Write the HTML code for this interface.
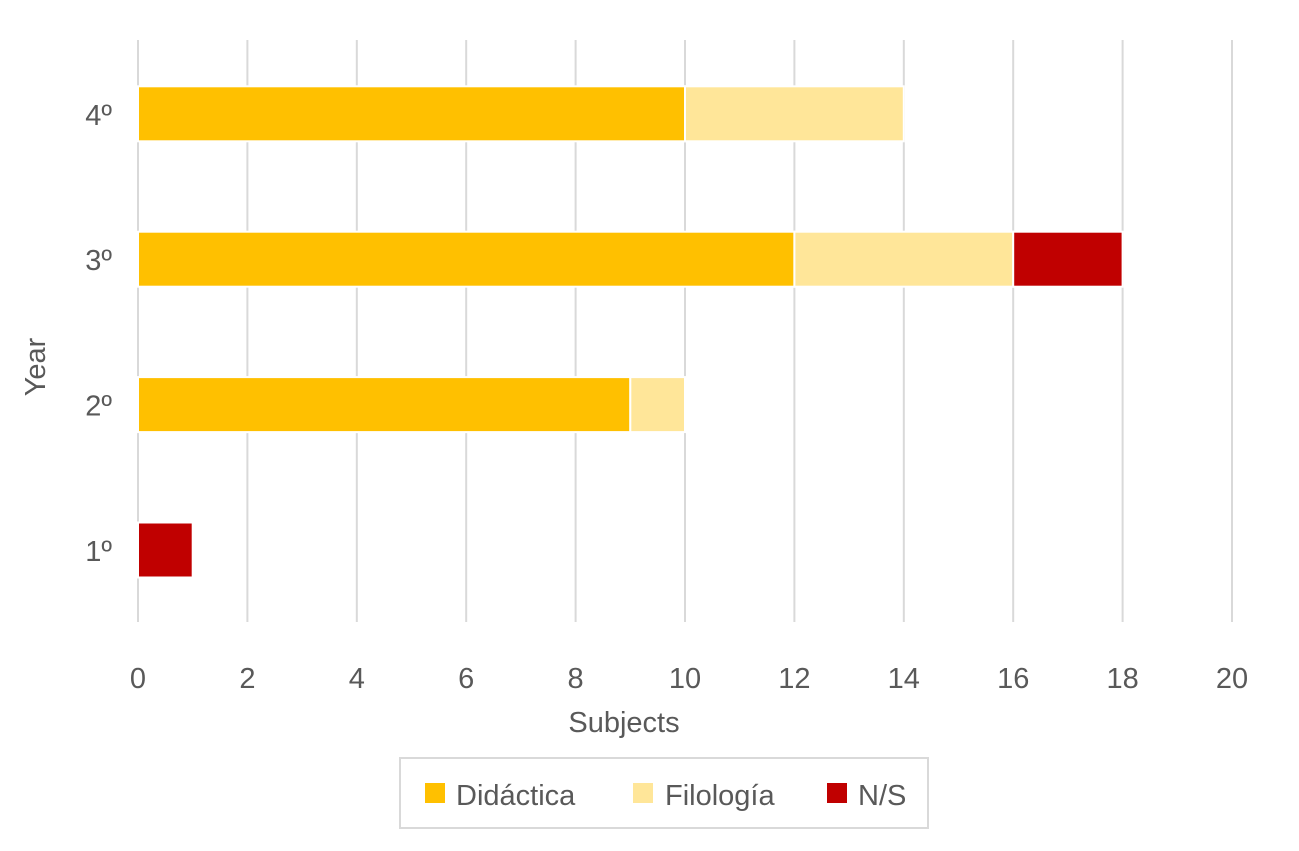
<!DOCTYPE html>
<html><head><meta charset="utf-8"><style>
body{margin:0;background:#fff;}
svg text{font-family:"Liberation Sans",sans-serif;fill:#595959;}
</style></head><body>
<svg id="chart" width="1299" height="846">
<g id="grid"></g><g id="bars"></g><g id="labels"></g>
<text x="624" y="732" font-size="29" text-anchor="middle">Subjects</text>
<text transform="translate(45,367) rotate(-90)" font-size="29" text-anchor="middle">Year</text>
<g>
<rect x="400" y="758" width="528" height="70" fill="#fff" stroke="#d9d9d9" stroke-width="2"/>
<g><rect x="425" y="783" width="20" height="20" fill="#FFC000"/><text x="456" y="805" font-size="29">Didáctica</text></g>
<g><rect x="633" y="783" width="20" height="20" fill="#FFE699"/><text x="665" y="805" font-size="29">Filología</text></g>
<g><rect x="827" y="783" width="20" height="20" fill="#C00000"/><text x="858" y="805" font-size="29">N/S</text></g>
</g>
</svg>
<script>
const categories=["1º","2º","3º","4º"];
const didactica=[0,9,12,10];
const filologia=[0,1,4,4];
const ns=[1,0,2,0];
const xTicks=[0,2,4,6,8,10,12,14,16,18,20];
const NS="http://www.w3.org/2000/svg";
const x=v=>138+v*(1232-138)/20;
const yc=i=>550-i*145.4;
const grid=document.getElementById('grid'),bars=document.getElementById('bars'),labels=document.getElementById('labels');
function mk(t,a,p){const e=document.createElementNS(NS,t);for(const k in a)e.setAttribute(k,a[k]);p.appendChild(e);return e;}
xTicks.forEach(v=>{
 const l=mk('line',{x1:x(v),x2:x(v),y1:40,y2:622,stroke:'#d9d9d9','stroke-width':2},grid);
 
 
 const t=mk('text',{x:x(v),y:688,'font-size':29,'text-anchor':'middle'},labels);t.textContent=v;
 
 
});
const series=[[didactica,'#FFC000','didactica'],[filologia,'#FFE699','filologia'],[ns,'#C00000','ns']];
categories.forEach((c,i)=>{
 const t=mk('text',{x:112,y:yc(i)+11,'font-size':29,'text-anchor':'end'},labels);t.textContent=c;
 
 
 let acc=0;
 series.forEach(([arr,col,nm])=>{
  const v=arr[i];if(!v)return;
  const r=mk('rect',{x:x(acc),y:yc(i)-27.5,width:x(acc+v)-x(acc),height:55,fill:col,stroke:'#fff','stroke-width':2},bars);
  
  
  acc+=v;
 });
});
</script>
</body></html>
